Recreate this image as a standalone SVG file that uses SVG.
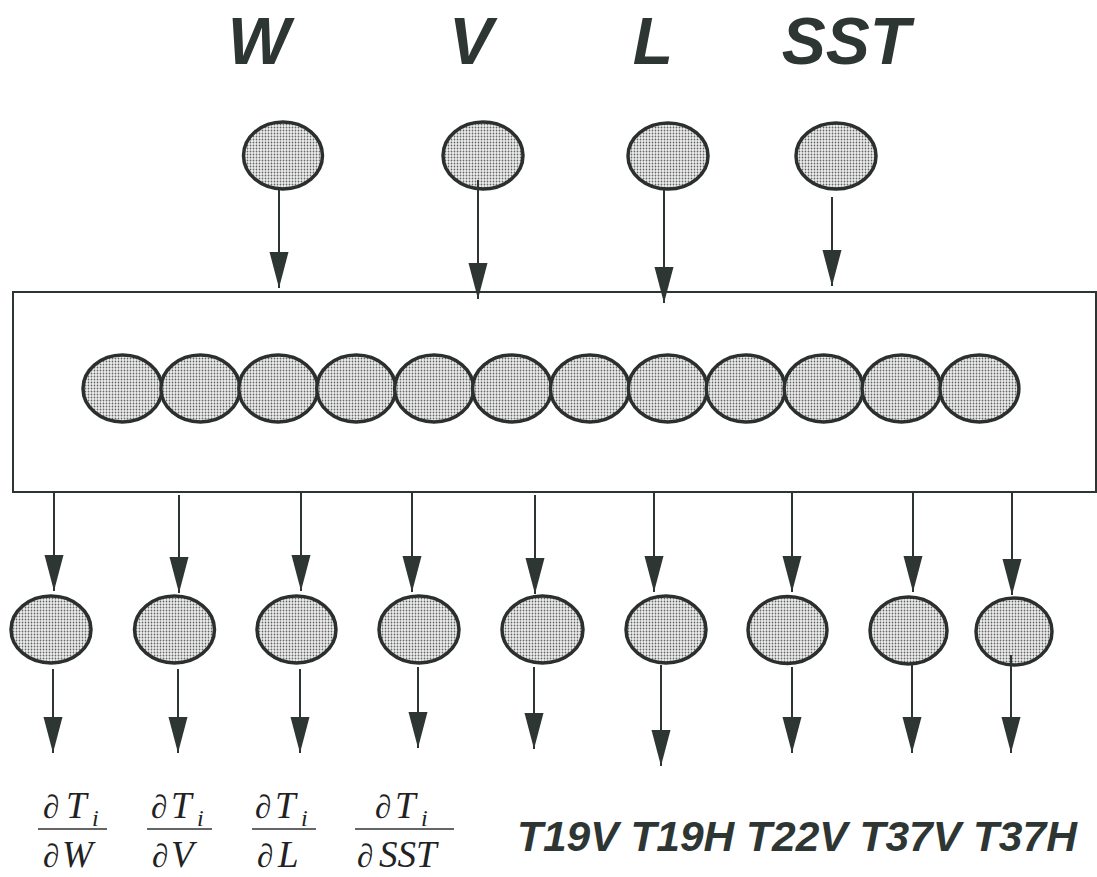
<svg xmlns="http://www.w3.org/2000/svg" width="1097" height="877" viewBox="0 0 1097 877">
<style>
.node{fill:url(#dots);stroke:#2b302f;stroke-width:3.5}
.conn line{stroke:#2e3432;stroke-width:2;marker-end:url(#ah)}
.lbl{font-family:"Liberation Sans",Arial,sans-serif;font-weight:bold;font-style:italic;fill:#2e3634}
.math{font-family:"Liberation Serif","Times New Roman",serif;font-size:33px;fill:#222}
.it{font-style:italic;font-size:37px}
.sub{font-style:italic;font-size:24px}
.bar{stroke:#333;stroke-width:1.6}
</style>
<defs>
<pattern id="dots" width="3" height="3" patternUnits="userSpaceOnUse">
<rect width="3" height="3" fill="#eeeeee"/>
<circle cx="1.5" cy="1.5" r="0.9" fill="#666666"/>
</pattern>
<marker id="ah" markerUnits="userSpaceOnUse" viewBox="0 -10 36 20" refX="36" refY="0" markerWidth="36" markerHeight="20" orient="auto">
<path d="M0,-9.5 L36,0 L0,9.5 Z" fill="#2e3634"/>
</marker>
</defs>
<rect width="1097" height="877" fill="#ffffff"/>

<g id="labels-top">
<text class="lbl" x="259" y="64" font-size="66" text-anchor="middle">W</text>
<text class="lbl" x="471" y="64" font-size="66" text-anchor="middle">V</text>
<text class="lbl" x="653" y="64" font-size="66" text-anchor="middle">L</text>
<text class="lbl" x="846" y="64" font-size="66" text-anchor="middle">SST</text>
</g>

<g id="input-W"><ellipse class="node" cx="283" cy="155.5" rx="39.5" ry="33.5"/></g>
<g id="input-V"><ellipse class="node" cx="483" cy="155.5" rx="40" ry="33.5"/></g>
<g id="input-L"><ellipse class="node" cx="668" cy="156" rx="40" ry="33"/></g>
<g id="input-SST"><ellipse class="node" cx="836" cy="156" rx="40" ry="33"/></g>

<g id="hidden-layer">
<rect x="13" y="292" width="1083" height="200" fill="none" stroke="#2e3432" stroke-width="2"/>
<ellipse class="node" cx="122.5" cy="388.5" rx="39.5" ry="33.5"/>
<ellipse class="node" cx="200.4" cy="388.5" rx="39.5" ry="33.5"/>
<ellipse class="node" cx="278.3" cy="388.5" rx="39.5" ry="33.5"/>
<ellipse class="node" cx="356.2" cy="388.5" rx="39.5" ry="33.5"/>
<ellipse class="node" cx="434.1" cy="388.5" rx="39.5" ry="33.5"/>
<ellipse class="node" cx="512" cy="388.5" rx="39.5" ry="33.5"/>
<ellipse class="node" cx="589.9" cy="388.5" rx="39.5" ry="33.5"/>
<ellipse class="node" cx="667.8" cy="388.5" rx="39.5" ry="33.5"/>
<ellipse class="node" cx="745.7" cy="388.5" rx="39.5" ry="33.5"/>
<ellipse class="node" cx="823.6" cy="388.5" rx="39.5" ry="33.5"/>
<ellipse class="node" cx="901.5" cy="388.5" rx="39.5" ry="33.5"/>
<ellipse class="node" cx="979.4" cy="388.5" rx="39.5" ry="33.5"/>
</g>

<g id="out-dW"><ellipse class="node" cx="51" cy="629.5" rx="40" ry="33.5"/></g>
<g id="out-dV"><ellipse class="node" cx="174.5" cy="629.5" rx="40" ry="33.5"/></g>
<g id="out-dL"><ellipse class="node" cx="296.5" cy="629.5" rx="39.5" ry="33.5"/></g>
<g id="out-dSST"><ellipse class="node" cx="419" cy="629.5" rx="40" ry="33.5"/></g>
<g id="out-T19V"><ellipse class="node" cx="542.5" cy="629.5" rx="40.5" ry="33.5"/></g>
<g id="out-T19H"><ellipse class="node" cx="666" cy="629.5" rx="40" ry="33.5"/></g>
<g id="out-T22V"><ellipse class="node" cx="787.5" cy="630" rx="39.5" ry="33.5"/></g>
<g id="out-T37V"><ellipse class="node" cx="908.5" cy="630.5" rx="38.5" ry="33.5"/></g>
<g id="out-T37H"><ellipse class="node" cx="1014" cy="631.5" rx="38" ry="33.5"/></g>

<g id="connectors" class="conn">
<line x1="279" y1="189" x2="279" y2="288"/>
<line x1="478" y1="180" x2="478" y2="299"/>
<line x1="664" y1="189" x2="664" y2="303"/>
<line x1="832" y1="197" x2="832" y2="286"/>

<line x1="54" y1="492" x2="54" y2="591"/>
<line x1="179" y1="495" x2="179" y2="593"/>
<line x1="301" y1="492" x2="301" y2="591"/>
<line x1="412" y1="492" x2="412" y2="592"/>
<line x1="535" y1="495" x2="535" y2="594"/>
<line x1="654" y1="492" x2="654" y2="592"/>
<line x1="792" y1="492" x2="792" y2="592"/>
<line x1="913" y1="492" x2="913" y2="592"/>
<line x1="1012" y1="492" x2="1012" y2="595"/>

<line x1="53" y1="669" x2="53" y2="753"/>
<line x1="178" y1="669" x2="178" y2="753"/>
<line x1="300" y1="669" x2="300" y2="753"/>
<line x1="418" y1="667" x2="418" y2="748"/>
<line x1="534" y1="667" x2="534" y2="749"/>
<line x1="661" y1="665" x2="661" y2="766"/>
<line x1="792" y1="667" x2="792" y2="753"/>
<line x1="912" y1="665" x2="912" y2="753"/>
<line x1="1011" y1="655" x2="1011" y2="753"/>
</g>

<g id="labels-deriv">
<text class="math" x="43" y="818">∂<tspan class="it" x="66">T</tspan><tspan class="sub" x="92" y="826">i</tspan></text>
<line class="bar" x1="38" y1="829" x2="107" y2="829"/>
<text class="math" x="43" y="867">∂<tspan class="it" x="62">W</tspan></text>

<text class="math" x="151" y="818">∂<tspan class="it" x="171">T</tspan><tspan class="sub" x="197" y="826">i</tspan></text>
<line class="bar" x1="147" y1="829" x2="212" y2="829"/>
<text class="math" x="152" y="867">∂<tspan class="it" x="171">V</tspan></text>

<text class="math" x="255" y="818">∂<tspan class="it" x="275">T</tspan><tspan class="sub" x="301" y="826">i</tspan></text>
<line class="bar" x1="252" y1="829" x2="316" y2="829"/>
<text class="math" x="257" y="867">∂<tspan class="it" x="278">L</tspan></text>

<text class="math" x="375" y="818">∂<tspan class="it" x="395">T</tspan><tspan class="sub" x="421" y="826">i</tspan></text>
<line class="bar" x1="355" y1="829" x2="454" y2="829"/>
<text class="math" x="357" y="867">∂<tspan class="it" x="379">SST</tspan></text>
</g>

<g id="labels-bottom">
<text class="lbl" x="517" y="851" font-size="42.5">T19V T19H T22V T37V T37H</text>
</g>
</svg>
